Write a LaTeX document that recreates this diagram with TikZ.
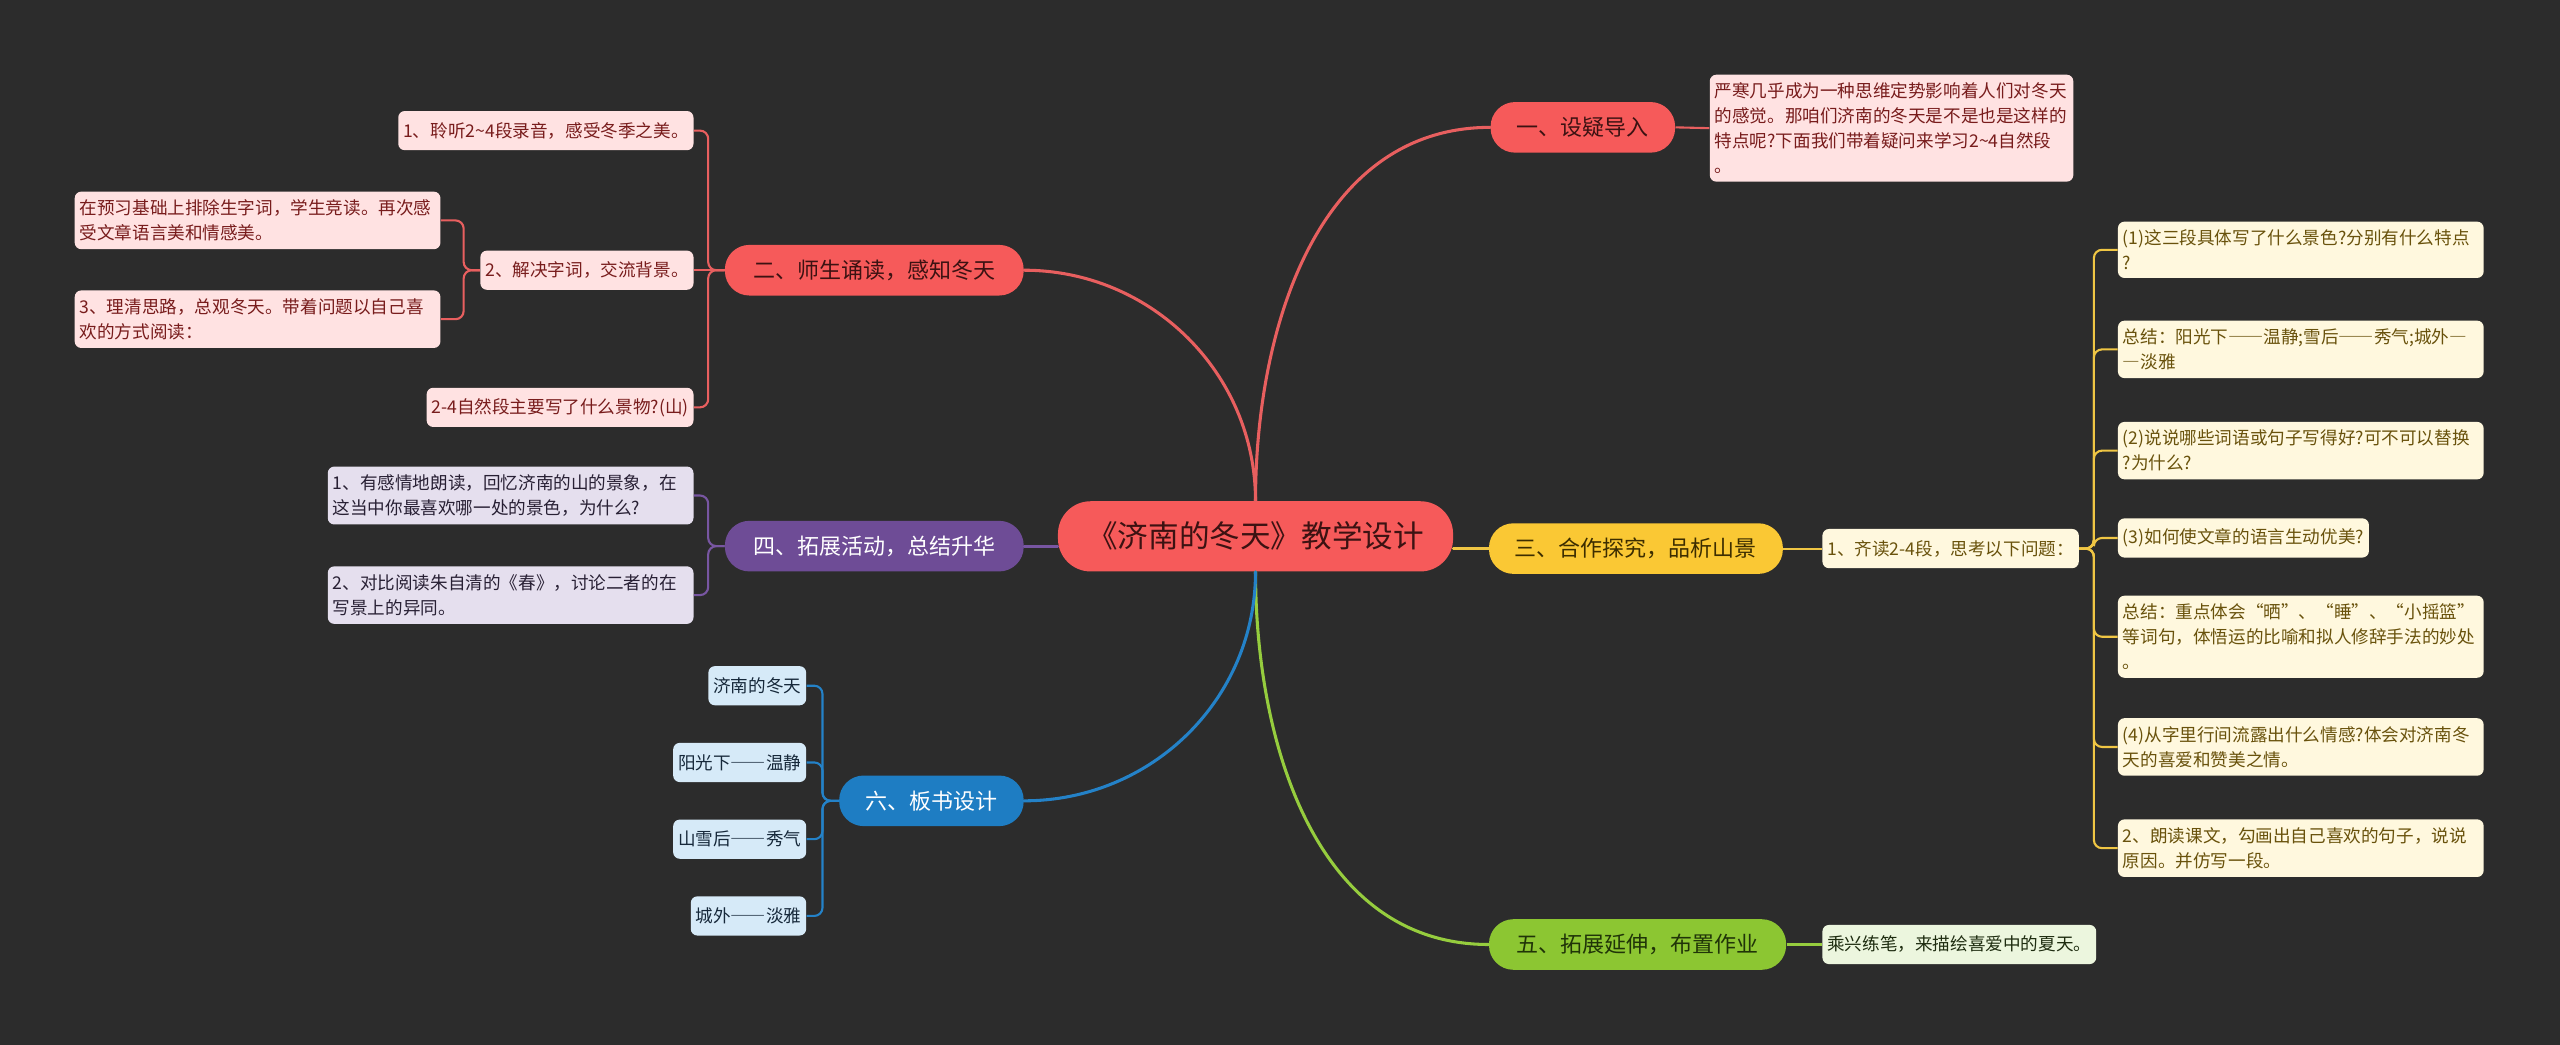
\documentclass[tikz,border=0pt]{standalone}
\usepackage{fontspec}
\setmainfont{Noto Sans CJK SC}
\newfontfamily\fwfont{Noto Sans CJK SC}[RawFeature=+fwid]
\newcommand\cdash{{\fwfont —}}
\usetikzlibrary{positioning}

\definecolor{bgdark}{RGB}{44,44,44}
\definecolor{redmain}{RGB}{246,90,90}
\definecolor{redlite}{RGB}{255,226,226}
\definecolor{redink}{RGB}{60,18,18}
\definecolor{redtext}{RGB}{120,28,28}
\definecolor{redline}{RGB}{232,95,95}
\definecolor{yelmain}{RGB}{250,200,52}
\definecolor{yellite}{RGB}{255,248,222}
\definecolor{yelink}{RGB}{60,45,0}
\definecolor{yeltext}{RGB}{105,82,12}
\definecolor{yelline}{RGB}{240,198,68}
\definecolor{purmain}{RGB}{110,76,150}
\definecolor{purlite}{RGB}{229,223,238}
\definecolor{purtext}{RGB}{40,32,52}
\definecolor{purline}{RGB}{120,86,162}
\definecolor{grnmain}{RGB}{140,198,50}
\definecolor{grnlite}{RGB}{236,246,222}
\definecolor{grnink}{RGB}{32,52,8}
\definecolor{grntext}{RGB}{30,44,16}
\definecolor{grnline}{RGB}{150,205,62}
\definecolor{blumain}{RGB}{30,125,195}
\definecolor{blulite}{RGB}{214,234,248}
\definecolor{blutext}{RGB}{22,40,58}
\definecolor{bluline}{RGB}{36,130,200}

\tikzset{
  root/.style={rectangle, rounded corners=0.6cm, fill=redmain, text=redink,
    minimum width=7.26cm, minimum height=1.29cm,
    font=\fontsize{16}{19}\selectfont},
  topic/.style={rectangle, rounded corners=0.45cm, minimum height=0.93cm,
    font=\fontsize{11.5}{14}\selectfont},
  redtopic/.style={topic, fill=redmain, text=redink},
  yeltopic/.style={topic, fill=yelmain, text=yelink},
  purtopic/.style={topic, fill=purmain, text=white},
  grntopic/.style={topic, fill=grnmain, text=grnink},
  blutopic/.style={topic, fill=blumain, text=white},
  leaf/.style={rectangle, rounded corners=0.12cm, inner xsep=0.09cm,
    inner ysep=0.15cm, minimum height=0.72cm, align=left,
    font=\fontsize{9.2}{13}\selectfont},
  redleaf/.style={leaf, fill=redlite, text=redtext},
  yelleaf/.style={leaf, fill=yellite, text=yeltext},
  purleaf/.style={leaf, fill=purlite, text=purtext},
  grnleaf/.style={leaf, fill=grnlite, text=grntext},
  bluleaf/.style={leaf, fill=blulite, text=blutext},
  wide/.style={text width=6.54cm},
  lnk/.style={line width=1.6pt, line cap=round},
  sub/.style={line width=1.1pt, rounded corners=0.15cm},
}

\begin{document}
\begin{tikzpicture}[x=0.3mm, y=-0.3mm]
    \fill[bgdark] (0,0) rectangle (1568,640);

    % main topics
    \node[root]     (zhuti)   at (769,328.5)  {《济南的冬天》教学设计};
    \node[redtopic, minimum width=3.39cm] (sheyi)   at (969.5,78)   {一、设疑导入};
    \node[redtopic, minimum width=5.49cm] (songdu)  at (535.5,165.5) {二、师生诵读，感知冬天};
    \node[yeltopic, minimum width=5.4cm]  (tanjiu)  at (1002,336)   {三、合作探究，品析山景};
    \node[purtopic, minimum width=5.49cm] (tuozhan) at (535.5,334.5) {四、拓展活动，总结升华};
    \node[grntopic, minimum width=5.46cm] (yanshen) at (1003,578.5) {五、拓展延伸，布置作业};
    \node[blutopic, minimum width=3.39cm] (banshu)  at (570.5,490.5) {六、板书设计};

    % one
    \node[redleaf, text width=6.5cm, anchor=west] (sheyi1) at (1047,78.5)
      {严寒几乎成为一种思维定势影响着人们对冬天\\的感觉。那咱们济南的冬天是不是也是这样的\\特点呢?下面我们带着疑问来学习2\textasciitilde4自然段\\。};

    % two
    \node[redleaf, anchor=east] (songdu1) at (425,80) {1、聆听2\textasciitilde4段录音，感受冬季之美。};
    \node[redleaf, anchor=east] (songdu2) at (425,165.5) {2、解决字词，交流背景。};
    \node[redleaf, wide, anchor=east] (songdu21) at (270,135)
      {在预习基础上排除生字词，学生竞读。再次感\\受文章语言美和情感美。};
    \node[redleaf, wide, anchor=east] (songdu22) at (270,195.5)
      {3、理清思路，总观冬天。带着问题以自己喜\\欢的方式阅读：};
    \node[redleaf, anchor=east] (songdu3) at (425,249.5) {2-4自然段主要写了什么景物?(山)};

    % three
    \node[yelleaf, anchor=west] (tanjiu1) at (1116,336) {1、齐读2-4段，思考以下问题：};
    \node[yelleaf, wide, anchor=west] (wenti1) at (1297,153)
      {(1)这三段具体写了什么景色?分别有什么特点\\?};
    \node[yelleaf, wide, anchor=west] (zongjie1) at (1297,214)
      {总结：阳光下\cdash\cdash 温静;雪后\cdash\cdash 秀气;城外\cdash\\\cdash 淡雅};
    \node[yelleaf, wide, anchor=west] (wenti2) at (1297,276)
      {(2)说说哪些词语或句子写得好?可不可以替换\\?为什么?};
    \node[yelleaf, anchor=west] (wenti3) at (1297,329.5) {(3)如何使文章的语言生动优美?};
    \node[yelleaf, wide, anchor=west] (zongjie2) at (1297,390)
      {总结：重点体会“晒”、“睡”、“小摇篮”\\等词句，体悟运的比喻和拟人修辞手法的妙处\\。};
    \node[yelleaf, wide, anchor=west] (wenti4) at (1297,457.5)
      {(4)从字里行间流露出什么情感?体会对济南冬\\天的喜爱和赞美之情。};
    \node[yelleaf, wide, anchor=west] (langdu) at (1297,519.5)
      {2、朗读课文，勾画出自己喜欢的句子，说说\\原因。并仿写一段。};

    % four
    \node[purleaf, wide, anchor=east] (tuozhan1) at (425,303.5)
      {1、有感情地朗读，回忆济南的山的景象，在\\这当中你最喜欢哪一处的景色，为什么?};
    \node[purleaf, wide, anchor=east] (tuozhan2) at (425,364.5)
      {2、对比阅读朱自清的《春》，讨论二者的在\\写景上的异同。};

    % five
    \node[grnleaf, anchor=west] (yanshen1) at (1116,578.5) {乘兴练笔，来描绘喜爱中的夏天。};

    % six
    \node[bluleaf, anchor=east] (banshu1) at (494,420) {济南的冬天};
    \node[bluleaf, anchor=east] (banshu2) at (494,467) {阳光下\cdash\cdash 温静};
    \node[bluleaf, anchor=east] (banshu3) at (494,514) {山雪后\cdash\cdash 秀气};
    \node[bluleaf, anchor=east] (banshu4) at (494,561) {城外\cdash\cdash 淡雅};

    % links from the root
    \draw[lnk, redline] (zhuti.north) to[out=90, in=180] (sheyi.west);
    \draw[lnk, redline] (zhuti.north) to[out=90, in=0] (songdu.east);
    \draw[lnk, yelline] (tanjiu.west) -- (tanjiu.west -| zhuti.east);
    \draw[lnk, purline] (tuozhan.east) -- (tuozhan.east -| zhuti.west);
    \draw[lnk, grnline] (zhuti.south) to[out=-90, in=180] (yanshen.west);
    \draw[lnk, bluline] (zhuti.south) to[out=-90, in=0] (banshu.east);

    % links to the leaves
    \draw[sub, redline] (sheyi.east) -- (sheyi1.west);
    \draw[sub, redline] (songdu.west) -- (songdu2.east);
    \foreach \n in {songdu1, songdu3}
      \draw[sub, redline] (songdu.west) -- ++(-10,0) |- (\n.east);
    \foreach \n in {songdu21, songdu22}
      \draw[sub, redline] (songdu2.west) -- ++(-10,0) |- (\n.east);
    \draw[sub, yelline] (tanjiu.east) -- (tanjiu1.west);
    \foreach \n in {wenti1, zongjie1, wenti2, wenti3, zongjie2, wenti4, langdu}
      \draw[sub, yelline] (tanjiu1.east) -- ++(9,0) |- (\n.west);
    \foreach \n in {tuozhan1, tuozhan2}
      \draw[sub, purline] (tuozhan.west) -- ++(-10,0) |- (\n.east);
    \draw[sub, grnline] (yanshen.east) -- (yanshen1.west);
    \foreach \n in {banshu1, banshu2, banshu3, banshu4}
      \draw[sub, bluline] (banshu.west) -- ++(-10,0) |- (\n.east);
\end{tikzpicture}
\end{document}
